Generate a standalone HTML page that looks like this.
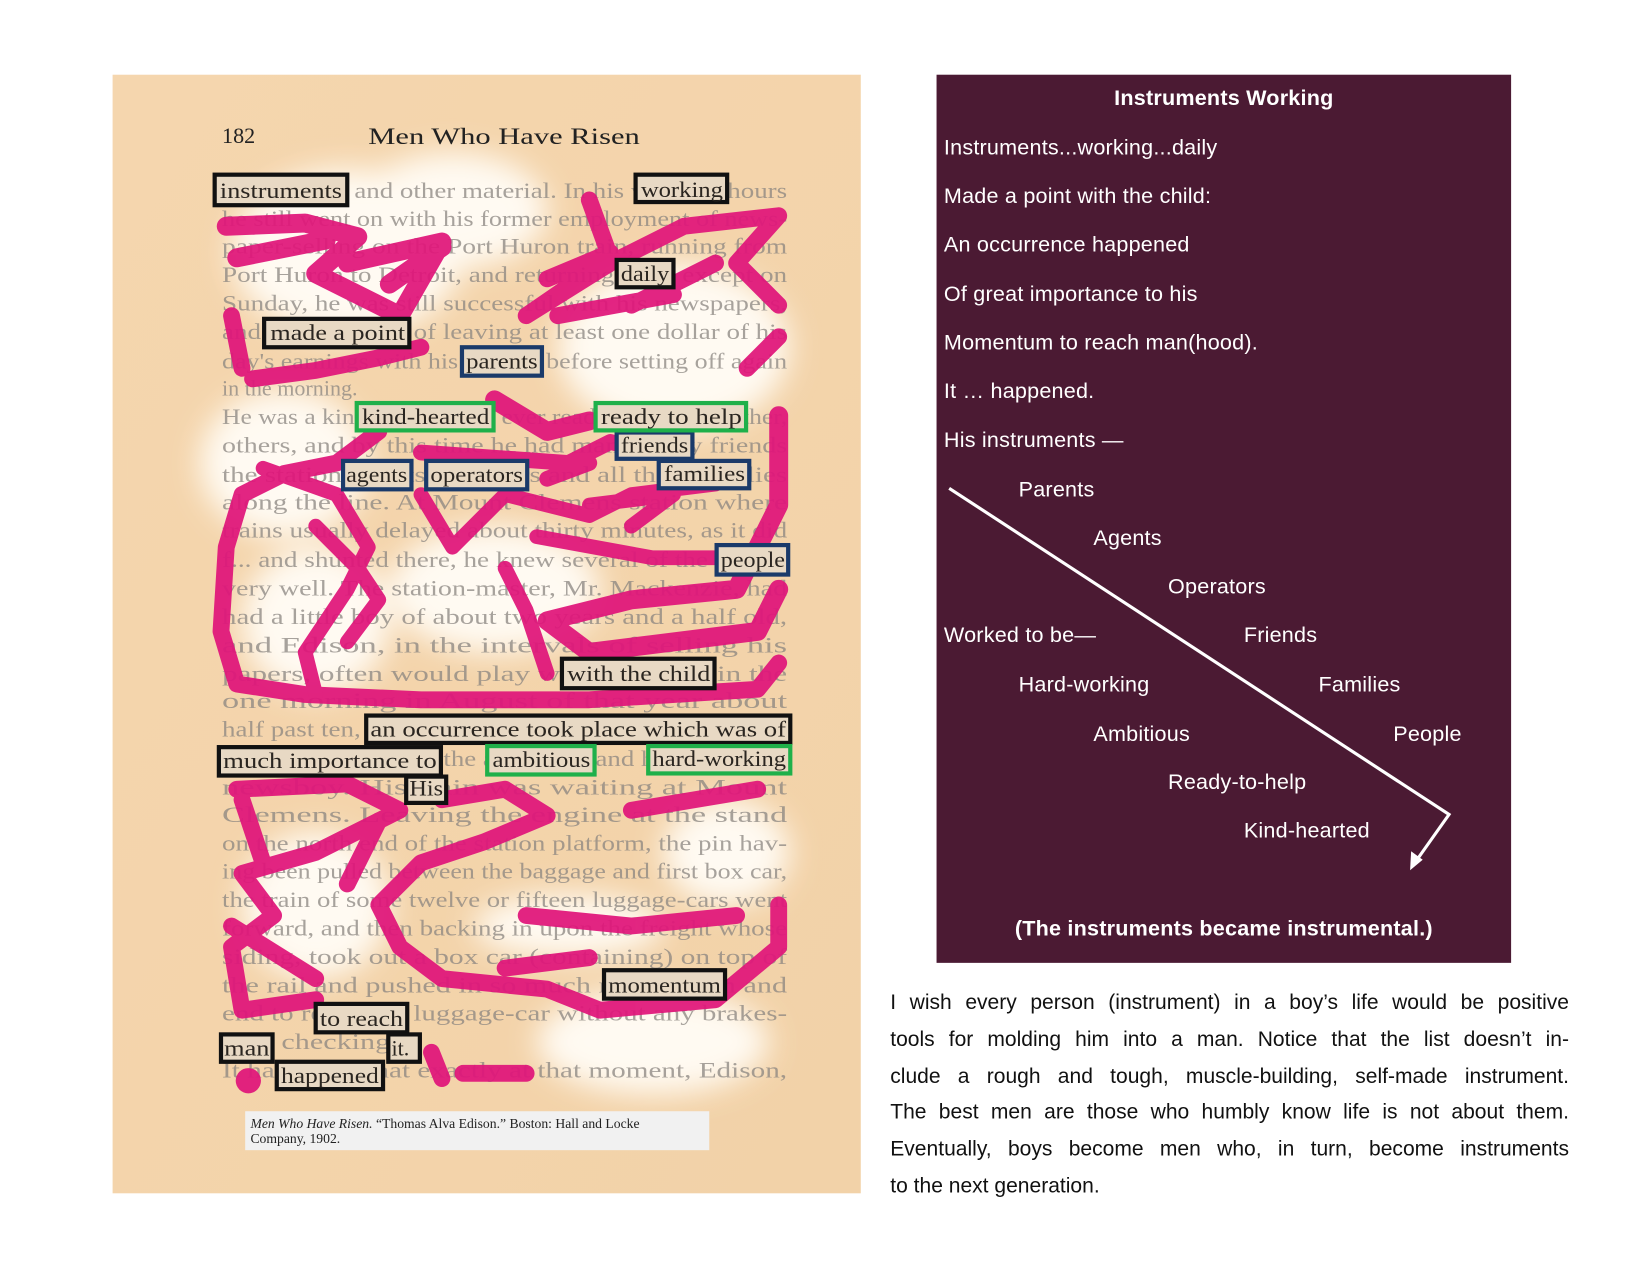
<!DOCTYPE html>
<html><head><meta charset="utf-8"><style>
html,body{margin:0;padding:0;background:#fff;width:1650px;height:1275px;overflow:hidden}
#w{position:absolute;left:0;top:0;width:1568px;height:1212px;transform:scale(1.0523);transform-origin:0 0}
.p{position:absolute;left:890px;top:71px;width:546px;height:844px;background:#4b1a33;color:#fff;font-family:"Liberation Sans",sans-serif}
.p div{position:absolute;font-size:20.5px;white-space:nowrap;transform:translateY(-50%);letter-spacing:0.2px}
.para div{position:absolute;left:846px;width:645px;font-family:"Liberation Sans",sans-serif;font-size:20px;line-height:24px;text-align:justify;text-align-last:justify;color:#111;white-space:nowrap;transform:translateY(-50%)}
</style></head><body><div id="w">
<svg style="position:absolute;left:0;top:0" width="1568" height="1212">
<defs>
<linearGradient id="bg" x1="0" y1="0" x2="1" y2="1"><stop offset="0" stop-color="#f5d6ae"/><stop offset="1" stop-color="#f2d2a8"/></linearGradient>
<filter id="bl"><feGaussianBlur stdDeviation="14"/></filter>
</defs>
<rect x="107" y="71" width="711" height="1063" fill="url(#bg)"/>
<g fill="#fffaf2" filter="url(#bl)">
<ellipse cx="330" cy="240" rx="110" ry="80"/><ellipse cx="430" cy="200" rx="90" ry="55"/>
<ellipse cx="640" cy="330" rx="110" ry="80"/><ellipse cx="270" cy="440" rx="80" ry="70"/>
<ellipse cx="300" cy="590" rx="70" ry="70"/><ellipse cx="470" cy="560" rx="100" ry="60"/>
<ellipse cx="690" cy="810" rx="60" ry="50"/><ellipse cx="300" cy="860" rx="70" ry="70"/>
<ellipse cx="620" cy="990" rx="110" ry="50"/><ellipse cx="540" cy="880" rx="90" ry="30"/>
</g>
<g font-family="Liberation Serif,serif" font-size="21" fill="#222">
<text x="211" y="136">182</text>
<text x="350" y="137" font-size="22" textLength="258" lengthAdjust="spacingAndGlyphs">Men Who Have Risen</text>
</g>
<g font-family="Liberation Serif,serif" font-size="21" fill="#8a8580" opacity="0.75">
<text x="211" y="188" textLength="537" lengthAdjust="spacingAndGlyphs">instruments and other material. In his working hours</text>
<text x="211" y="215" textLength="537" lengthAdjust="spacingAndGlyphs">he still went on with his former employment of news-</text>
<text x="211" y="241" textLength="537" lengthAdjust="spacingAndGlyphs">paper-selling on the Port Huron train, running from</text>
<text x="211" y="268" textLength="537" lengthAdjust="spacingAndGlyphs">Port Huron to Detroit, and returning daily except on</text>
<text x="211" y="295" textLength="537" lengthAdjust="spacingAndGlyphs">Sunday, he was still successful with his newspapers,</text>
<text x="211" y="322" textLength="537" lengthAdjust="spacingAndGlyphs">and made a point of leaving at least one dollar of his</text>
<text x="211" y="350" textLength="537" lengthAdjust="spacingAndGlyphs">day's earnings with his parents before setting off again</text>
<text x="211" y="376">in the morning.</text>
<text x="211" y="403" textLength="537" lengthAdjust="spacingAndGlyphs">He was a kind-hearted lad, ever ready to help the other,</text>
<text x="211" y="430" textLength="537" lengthAdjust="spacingAndGlyphs">others, and by this time he had many many friends</text>
<text x="211" y="458" textLength="537" lengthAdjust="spacingAndGlyphs">the station-agents operators and all their families</text>
<text x="211" y="484" textLength="537" lengthAdjust="spacingAndGlyphs">along the line. At Mount Clemens station where</text>
<text x="211" y="511" textLength="537" lengthAdjust="spacingAndGlyphs">trains usually delayed about thirty minutes, as it did</text>
<text x="211" y="539" textLength="537" lengthAdjust="spacingAndGlyphs">f... and shunted there, he knew several of the people</text>
<text x="211" y="566" textLength="537" lengthAdjust="spacingAndGlyphs">very well. The station-master, Mr. Mackenzie, had</text>
<text x="211" y="593" textLength="537" lengthAdjust="spacingAndGlyphs">had a little boy of about two years and a half old,</text>
<text x="211" y="620" textLength="537" lengthAdjust="spacingAndGlyphs">and Edison, in the intervals of selling his</text>
<text x="211" y="647" textLength="537" lengthAdjust="spacingAndGlyphs">papers, often would play with the child in the</text>
<text x="211" y="673" textLength="537" lengthAdjust="spacingAndGlyphs">one morning in August of that year about</text>
<text x="211" y="700" textLength="537" lengthAdjust="spacingAndGlyphs">half past ten, an occurrence took place which was of</text>
<text x="211" y="728" textLength="537" lengthAdjust="spacingAndGlyphs">much importance to the ambitious and hard-working</text>
<text x="211" y="755" textLength="537" lengthAdjust="spacingAndGlyphs">newsboy. His train was waiting at Mount</text>
<text x="211" y="781" textLength="537" lengthAdjust="spacingAndGlyphs">Clemens. Leaving the engine at the stand</text>
<text x="211" y="808" textLength="537" lengthAdjust="spacingAndGlyphs">on the north end of the station platform, the pin hav-</text>
<text x="211" y="835" textLength="537" lengthAdjust="spacingAndGlyphs">ing been pulled between the baggage and first box car,</text>
<text x="211" y="862" textLength="537" lengthAdjust="spacingAndGlyphs">the train of some twelve or fifteen luggage-cars went</text>
<text x="211" y="889" textLength="537" lengthAdjust="spacingAndGlyphs">forward, and then backing in upon the freight whose</text>
<text x="211" y="916" textLength="537" lengthAdjust="spacingAndGlyphs">siding, took out a box car (containing) on top of</text>
<text x="211" y="943" textLength="537" lengthAdjust="spacingAndGlyphs">the rail and pushed in so much momentum and</text>
<text x="211" y="970" textLength="537" lengthAdjust="spacingAndGlyphs">end to reach the luggage-car without any brakes-</text>
<text x="211" y="997" textLength="190" lengthAdjust="spacingAndGlyphs">man checking it.</text>
<text x="211" y="1024" textLength="537" lengthAdjust="spacingAndGlyphs">It happened that exactly at that moment, Edison,</text>
</g>
<g fill="none" stroke="#e0157a" stroke-linecap="round" stroke-linejoin="round" opacity="0.93">
<path stroke-width="18" d="M215 215 L290 212 L340 225 L300 260 L380 300 L420 230 L330 250 M225 245 L310 228 M370 270 L420 235"/>
<path stroke-width="16" d="M560 190 L580 245 L500 300 L580 250 L650 215 L740 205 L700 250 L740 290 M520 265 L580 240 M600 290 L680 250 M530 300 L640 280"/>
<path stroke-width="16" d="M400 330 L360 340 L300 352 L240 360 M220 300 L230 350 M740 320 L710 350"/>
<path stroke-width="18" d="M470 380 L520 410 L560 400 M740 395 L740 480 L720 520 L700 560 L600 570 L520 590 L560 620 L720 600 L740 560"/>
<path stroke-width="16" d="M360 410 L320 440 L270 450 L230 470 L215 520 L210 600 L225 650 L290 660 L400 665 L560 665 L720 655 L740 630"/>
<path stroke-width="14" d="M250 445 L320 470 L350 520 L330 560 L290 620 L300 660 M400 470 L430 520 L480 470 L560 490 L600 470 L680 460 M300 500 L340 540 L360 570 L330 610 M480 540 L500 580 L520 640 M510 510 L620 530 L690 530 M560 480 L640 470 L600 500"/>
<path stroke-width="15" d="M520 455 L560 440 M400 430 L540 440 L580 420 L620 430"/>
<path stroke-width="16" d="M225 750 L330 745 L380 770 L300 810 L230 830 L260 870 L220 900 L230 960 L300 950 M420 760 L480 750 L520 775 L460 800 L400 820 L360 860 L380 900 L420 930 L520 940 L570 960 L680 950 L740 900 L740 860 M500 870 L600 880 L700 870 M480 920 L560 910 M600 770 L660 760 L720 750"/>
<path stroke-width="16" d="M230 760 L250 820 M360 780 L330 840 M220 880 L300 930 M440 1020 L500 1020 M410 1000 L420 1025"/>
<circle cx="236" cy="1027" r="12" fill="#e0157a" stroke="none"/>
</g>
<g stroke-width="4" fill="#e8d9c4" font-family="Liberation Serif,serif" font-size="21">
<g stroke="#111">
<rect x="204" y="166" width="126" height="29"/><rect x="604" y="166" width="87" height="26"/>
<rect x="586" y="247" width="54" height="26"/><rect x="251" y="303" width="138" height="27"/>
<rect x="534" y="626" width="145" height="28"/><rect x="348" y="680" width="403" height="26"/>
<rect x="208" y="710" width="211" height="27"/><rect x="386" y="738" width="38" height="25"/>
<rect x="574" y="922" width="115" height="27"/><rect x="300" y="954" width="87" height="27"/>
<rect x="210" y="983" width="49" height="26"/><rect x="369" y="983" width="30" height="26"/>
<rect x="263" y="1009" width="101" height="26"/>
</g>
<g stroke="#1a3a6a">
<rect x="439" y="330" width="76" height="27"/><rect x="586" y="411" width="72" height="25"/>
<rect x="326" y="438" width="65" height="27"/><rect x="405" y="438" width="96" height="27"/>
<rect x="626" y="438" width="86" height="26"/><rect x="681" y="518" width="68" height="28"/>
</g>
<g stroke="#1fb04a">
<rect x="339" y="383" width="130" height="26"/><rect x="566" y="383" width="143" height="26"/>
<rect x="463" y="709" width="102" height="27"/><rect x="616" y="709" width="135" height="26"/>
</g>
<g fill="#2a2520" stroke="none">
<text x="209" y="188" textLength="116" lengthAdjust="spacingAndGlyphs">instruments</text>
<text x="609" y="187" textLength="78" lengthAdjust="spacingAndGlyphs">working</text>
<text x="590" y="267" textLength="46" lengthAdjust="spacingAndGlyphs">daily</text>
<text x="257" y="323" textLength="128" lengthAdjust="spacingAndGlyphs">made a point</text>
<text x="443" y="350" textLength="68" lengthAdjust="spacingAndGlyphs">parents</text>
<text x="344" y="403" textLength="121" lengthAdjust="spacingAndGlyphs">kind-hearted</text>
<text x="571" y="403" textLength="134" lengthAdjust="spacingAndGlyphs">ready to help</text>
<text x="590" y="430" textLength="64" lengthAdjust="spacingAndGlyphs">friends</text>
<text x="329" y="458" textLength="58" lengthAdjust="spacingAndGlyphs">agents</text>
<text x="409" y="458" textLength="88" lengthAdjust="spacingAndGlyphs">operators</text>
<text x="631" y="457" textLength="77" lengthAdjust="spacingAndGlyphs">families</text>
<text x="685" y="539" textLength="61" lengthAdjust="spacingAndGlyphs">people</text>
<text x="539" y="647" textLength="136" lengthAdjust="spacingAndGlyphs">with the child</text>
<text x="352" y="700" textLength="395" lengthAdjust="spacingAndGlyphs">an occurrence took place which was of</text>
<text x="212" y="730" textLength="203" lengthAdjust="spacingAndGlyphs">much importance to</text>
<text x="468" y="729" textLength="93" lengthAdjust="spacingAndGlyphs">ambitious</text>
<text x="620" y="728" textLength="127" lengthAdjust="spacingAndGlyphs">hard-working</text>
<text x="389" y="756" textLength="32" lengthAdjust="spacingAndGlyphs">His</text>
<text x="578" y="943" textLength="107" lengthAdjust="spacingAndGlyphs">momentum</text>
<text x="304" y="975" textLength="79" lengthAdjust="spacingAndGlyphs">to reach</text>
<text x="213" y="1003" textLength="43" lengthAdjust="spacingAndGlyphs">man</text>
<text x="372" y="1003">it.</text>
<text x="267" y="1029" textLength="93" lengthAdjust="spacingAndGlyphs">happened</text>
</g></g>
<rect x="233" y="1056" width="441" height="37" fill="#f1f1f1"/>
<text x="238" y="1072" font-family="Liberation Serif,serif" font-size="13" fill="#222"><tspan font-style="italic">Men Who Have Risen.</tspan> “Thomas Alva Edison.”  Boston: Hall and Locke</text>
<text x="238" y="1086" font-family="Liberation Serif,serif" font-size="13" fill="#222">Company, 1902.</text>
</svg>
<div class="p">
<div style="left:0;width:546px;text-align:center;top:23px;font-weight:bold">Instruments Working</div>
<div style="left:7px;top:70px">Instruments...working...daily</div>
<div style="left:7px;top:116px">Made a point with the child:</div>
<div style="left:7px;top:162px">An occurrence happened</div>
<div style="left:7px;top:209px">Of great importance to his</div>
<div style="left:7px;top:255px">Momentum to reach man(hood).</div>
<div style="left:7px;top:301px">It … happened.</div>
<div style="left:7px;top:348px">His instruments —</div>
<div style="left:78px;top:395px">Parents</div>
<div style="left:149px;top:441px">Agents</div>
<div style="left:220px;top:487px">Operators</div>
<div style="left:292px;top:533px">Friends</div>
<div style="left:363px;top:580px">Families</div>
<div style="left:434px;top:627px">People</div>
<div style="left:7px;top:533px">Worked to be—</div>
<div style="left:78px;top:580px">Hard-working</div>
<div style="left:149px;top:627px">Ambitious</div>
<div style="left:220px;top:673px">Ready-to-help</div>
<div style="left:292px;top:719px">Kind-hearted</div>
<div style="left:0;width:546px;text-align:center;top:812px;font-weight:bold">(The instruments became instrumental.)</div>
<svg style="position:absolute;left:0;top:0" width="546" height="844">
<polyline points="12,393 487,703 453,751" fill="none" stroke="#fff" stroke-width="3"/>
<polygon points="450,756 451,738 462,746" fill="#fff"/>
</svg>
</div>
<div class="para">
<div style="top:953px">I wish every person (instrument) in a boy’s life would be positive</div>
<div style="top:988px">tools for molding him into a man. Notice that the list doesn’t in-</div>
<div style="top:1023px">clude a rough and tough, muscle-building, self-made instrument.</div>
<div style="top:1057px">The best men are those who humbly know life is not about them.</div>
<div style="top:1092px">Eventually, boys become men who, in turn, become instruments</div>
<div style="top:1127px;text-align-last:left">to the next generation.</div>
</div>
</div></body></html>
